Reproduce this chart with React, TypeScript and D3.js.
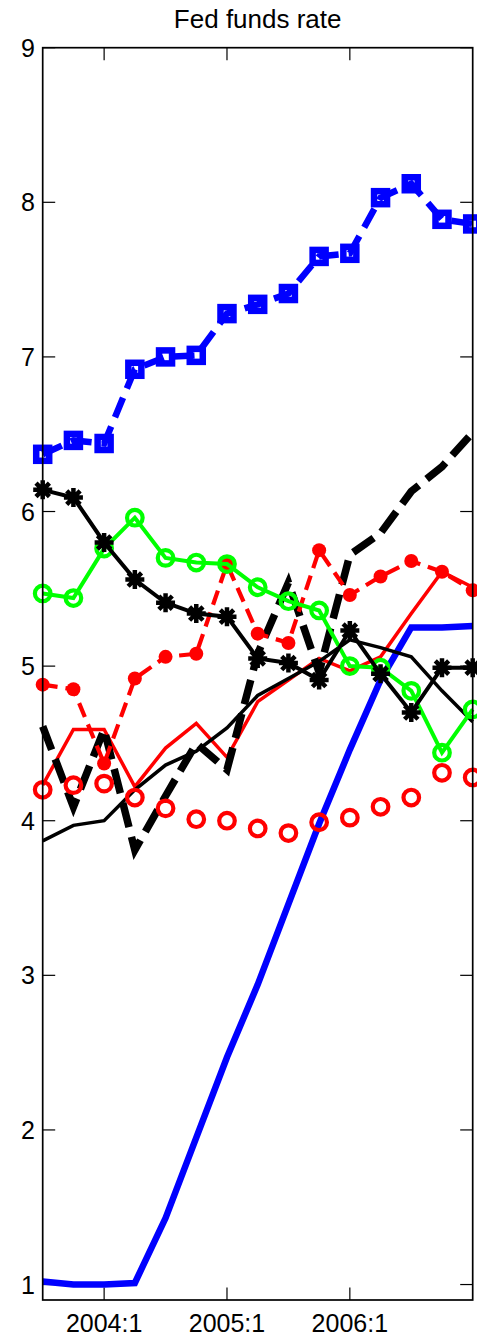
import React from "react";
import * as d3 from "d3";

// Quarters on the horizontal axis (2003:3 .. 2007:1)
const quarters = [
  "2003:3", "2003:4", "2004:1", "2004:2", "2004:3", "2004:4", "2005:1", "2005:2",
  "2005:3", "2005:4", "2006:1", "2006:2", "2006:3", "2006:4", "2007:1",
];
const tickQuarters = ["2004:1", "2005:1", "2006:1"];
const yTicks = [1, 2, 3, 4, 5, 6, 7, 8, 9];

// Actual federal funds rate (thick blue line)
const actualRate = [1.02, 1.0, 1.0, 1.01, 1.43, 1.95, 2.47, 2.94, 3.46, 3.98, 4.46, 4.91, 5.25, 5.25, 5.26];
// Rule-implied paths
const blueSquares = [6.37, 6.46, 6.44, 6.92, 7.0, 7.01, 7.28, 7.34, 7.41, 7.65, 7.67, 8.03, 8.12, 7.89, 7.86];
const blackStars = [6.14, 6.09, 5.8, 5.56, 5.41, 5.34, 5.32, 5.05, 5.02, 4.91, 5.23, 4.95, 4.7, 4.99, 4.99];
const greenCircles = [5.47, 5.44, 5.76, 5.96, 5.7, 5.67, 5.66, 5.51, 5.42, 5.36, 5.0, 4.99, 4.84, 4.44, 4.72];
const redDots = [4.88, 4.85, 4.37, 4.92, 5.06, 5.08, 5.66, 5.21, 5.15, 5.75, 5.46, 5.58, 5.68, 5.61, 5.49];
const redRings = [4.2, 4.23, 4.24, 4.15, 4.08, 4.01, 4.0, 3.95, 3.92, 3.99, 4.02, 4.09, 4.15, 4.31, 4.28];
const redSolid = [4.23, 4.59, 4.59, 4.22, 4.47, 4.63, 4.41, 4.77, 4.91, 5.05, 4.97, 5.06, 5.34, 5.61, 5.51];
const blackSolid = [3.87, 3.97, 4.0, 4.2, 4.36, 4.45, 4.6, 4.81, 4.92, 5.03, 5.17, 5.12, 5.06, 4.84, 4.64];
const blackDashed = [4.61, 4.09, 4.59, 3.81, 4.16, 4.5, 4.33, 5.08, 5.54, 4.96, 5.72, 5.86, 6.13, 6.29, 6.51];

const W = 477;
const H = 1341;
const left = 42.7;
const right = 472.7;
const top = 47.7;
const bottom = 1300;
const FONT = "'Liberation Sans', Arial, Helvetica, sans-serif";

const x = d3.scaleLinear().domain([0, quarters.length - 1]).range([left, right]);
const y = d3.scaleLinear().domain([0.9, 9]).range([bottom, top]);

const line = d3
  .line<number>()
  .x((_, i) => x(i))
  .y((d) => y(d));

function asteriskPath(r: number) {
  const d = r * Math.SQRT1_2;
  return `M${-r},0L${r},0M0,${-r}L0,${r}M${-d},${-d}L${d},${d}M${-d},${d}L${d},${-d}`;
}

export default function App() {
  const tickLen = 12.5;
  return (
    <svg
      width={W}
      height={H}
      viewBox={`0 0 ${W} ${H}`}
      style={{ position: "absolute", left: 0, top: 0, background: "#fff" }}
    >
      <rect x={0} y={0} width={W} height={H} fill="#fff" />

      {/* axis ticks (inside, mirrored on all sides) */}
      <g stroke="#000" strokeWidth={1.2}>
        {yTicks.map((t) => (
          <g key={`y${t}`}>
            <line x1={left} x2={left + tickLen} y1={y(t)} y2={y(t)} />
            <line x1={right} x2={right - tickLen} y1={y(t)} y2={y(t)} />
          </g>
        ))}
        {tickQuarters.map((q) => {
          const xi = x(quarters.indexOf(q));
          return (
            <g key={`x${q}`}>
              <line x1={xi} x2={xi} y1={bottom} y2={bottom - tickLen} />
              <line x1={xi} x2={xi} y1={top} y2={top + tickLen} />
            </g>
          );
        })}
      </g>

      {/* actual rate */}
      <path d={line(actualRate)!} fill="none" stroke="#0000ff" strokeWidth={6.5} strokeLinejoin="miter" />

      {/* red solid */}
      <path d={line(redSolid)!} fill="none" stroke="#ff0000" strokeWidth={3.5} strokeLinejoin="miter" />

      {/* black solid */}
      <path d={line(blackSolid)!} fill="none" stroke="#000" strokeWidth={3.5} strokeLinejoin="miter" />

      {/* black dashed */}
      <path
        d={line(blackDashed)!}
        fill="none"
        stroke="#000"
        strokeWidth={7.5}
        strokeDasharray="25 10"
        strokeLinejoin="miter"
        strokeMiterlimit={10}
      />

      {/* red dashed with dots */}
      <path d={line(redDots)!} fill="none" stroke="#ff0000" strokeWidth={4.2} strokeDasharray="15 8" />
      {redDots.map((v, i) => (
        <circle key={`rd${i}`} cx={x(i)} cy={y(v)} r={7} fill="#ff0000" />
      ))}

      {/* red rings */}
      {redRings.map((v, i) => (
        <circle key={`rr${i}`} cx={x(i)} cy={y(v)} r={7.8} fill="none" stroke="#ff0000" strokeWidth={4.2} />
      ))}

      {/* green circles */}
      <path d={line(greenCircles)!} fill="none" stroke="#00ff00" strokeWidth={4} strokeLinejoin="miter" />
      {greenCircles.map((v, i) => (
        <circle key={`g${i}`} cx={x(i)} cy={y(v)} r={7.8} fill="none" stroke="#00ff00" strokeWidth={4.2} />
      ))}

      {/* black stars */}
      <path d={line(blackStars)!} fill="none" stroke="#000" strokeWidth={4} strokeLinejoin="miter" />
      {blackStars.map((v, i) => (
        <path
          key={`s${i}`}
          transform={`translate(${x(i)},${y(v)})`}
          d={asteriskPath(9.5)}
          fill="none"
          stroke="#000"
          strokeWidth={4.5}
        />
      ))}

      {/* blue dashed with squares */}
      <path d={line(blueSquares)!} fill="none" stroke="#0000ff" strokeWidth={6.5} strokeDasharray="21 10" />
      {blueSquares.map((v, i) => (
        <rect
          key={`b${i}`}
          x={x(i) - 6.5}
          y={y(v) - 6.5}
          width={13}
          height={13}
          fill="none"
          stroke="#0000ff"
          strokeWidth={6.5}
        />
      ))}

      {/* axes box */}
      <rect
        x={left}
        y={top}
        width={right - left}
        height={bottom - top}
        fill="none"
        stroke="#000"
        strokeWidth={1.7}
      />

      {/* tick labels */}
      <g fontFamily={FONT} fontSize={25} fill="#000">
        {yTicks.map((t) => (
          <text key={`yl${t}`} x={35} y={y(t) + 9} textAnchor="end">
            {t}
          </text>
        ))}
        {tickQuarters.map((q) => (
          <text key={`xl${q}`} x={x(quarters.indexOf(q))} y={1332} textAnchor="middle">
            {q}
          </text>
        ))}
      </g>

      <text x={(left + right) / 2} y={28.3} textAnchor="middle" fontFamily={FONT} fontSize={26} fill="#000">
        Fed funds rate
      </text>
    </svg>
  );
}
